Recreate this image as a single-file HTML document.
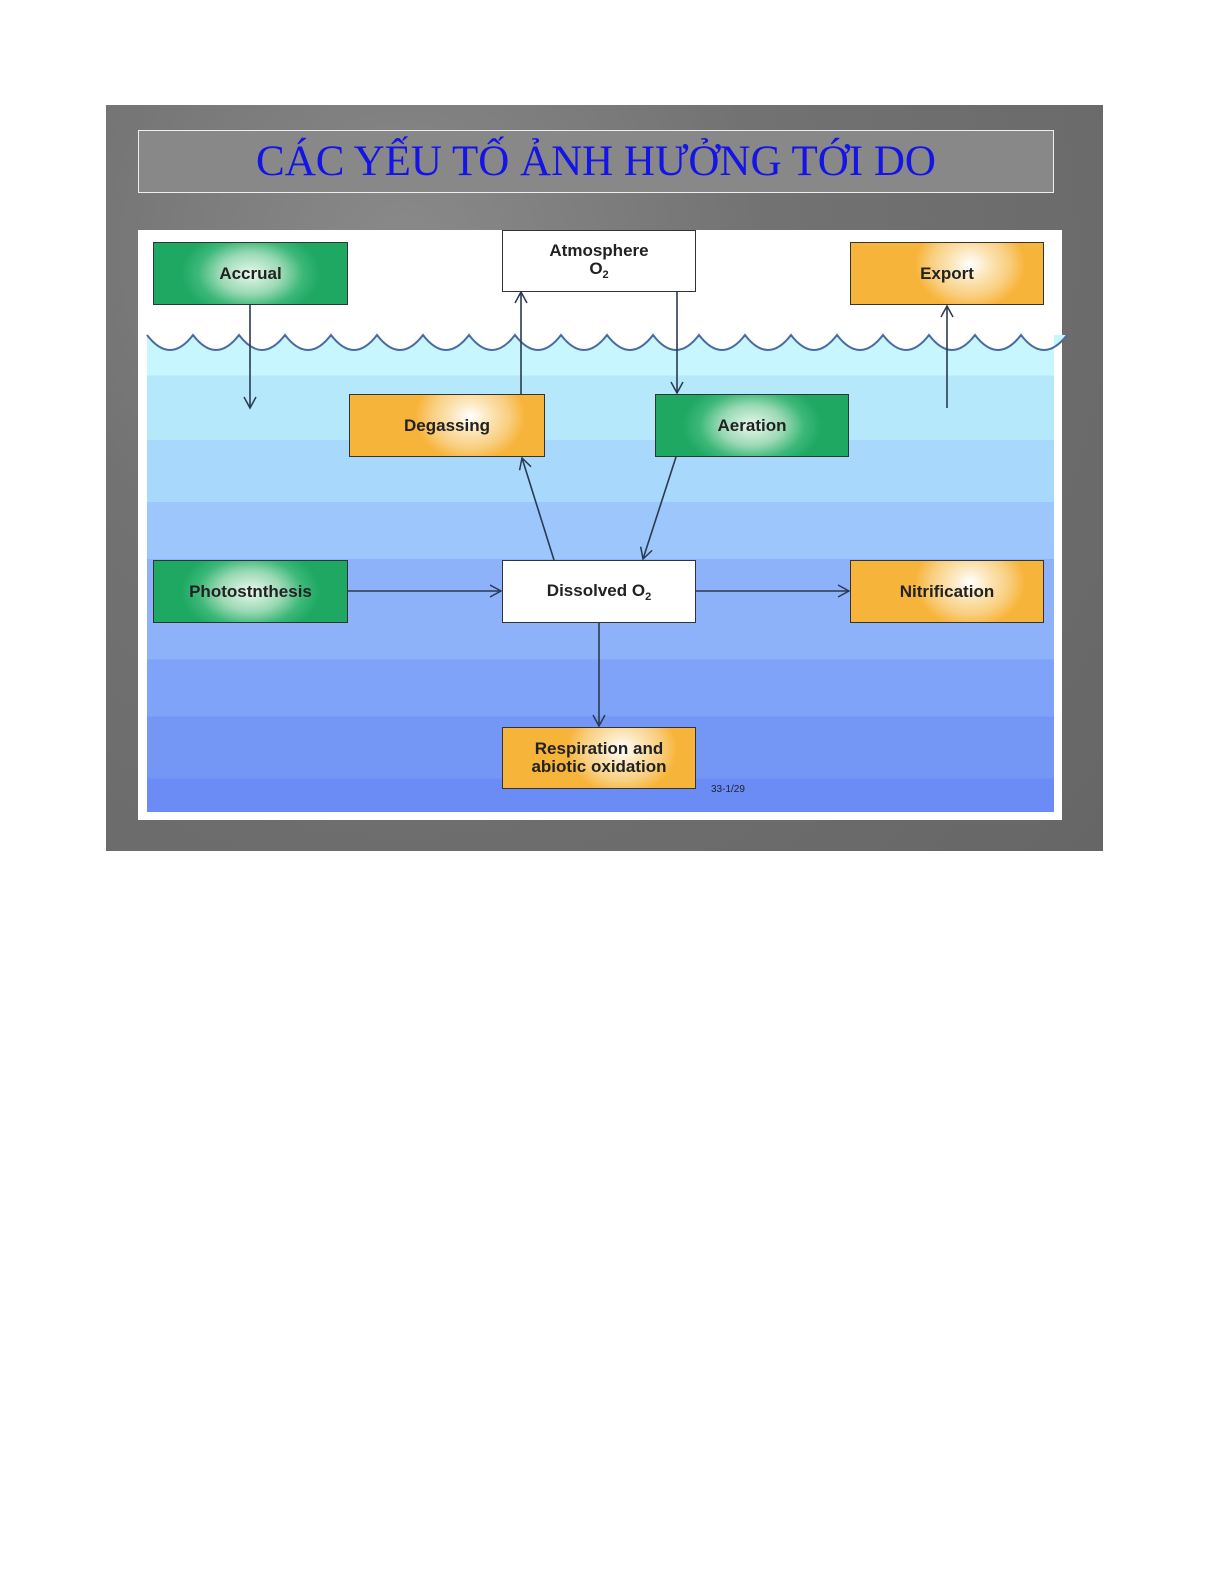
<!DOCTYPE html>
<html><head><meta charset="utf-8"><style>
body{margin:0;background:#fff;width:1225px;height:1585px;position:relative;font-family:"Liberation Sans",sans-serif}
.frame{position:absolute;left:106px;top:105px;width:997px;height:746px;background:#727272;background-image:radial-gradient(circle at 30% 20%,#8a8a8a 0,#727272 40%,#666 100%)}
.title{position:absolute;left:138px;top:130px;width:914px;height:61px;border:1px solid #eee;background:#888;color:#1414e6;font-family:"Liberation Serif",serif;font-size:43px;line-height:61px;text-align:center}
.panel{position:absolute;left:138px;top:230px;width:924px;height:590px;background:#fff}
.b{position:absolute;width:192px;height:61px;border:1.5px solid #333;font-weight:bold;font-size:17px;color:#222;display:flex;align-items:center;justify-content:center;text-align:center;box-sizing:border-box}
.b div{line-height:18px}
.s{font-size:11px;position:relative;top:4px}
.g{background:radial-gradient(ellipse 70px 45px at 50% 50%,#e8f8ee 0,#9ad9b4 45%,#3cb878 75%,#1ea862 100%)}
.o{background:radial-gradient(ellipse 55px 45px at 62% 35%,#fff 0,#fbe2b0 40%,#f9cf80 70%,#f7b43a 100%)}
.w{background:#fff}
</style></head><body>
<div class="frame"></div>
<div class="title">CÁC YẾU TỐ ẢNH HƯỞNG TỚI DO</div>
<div class="panel"></div>
<svg style="position:absolute;left:0;top:0" width="1225" height="1585">
<defs>
<linearGradient id="wg" x1="0" y1="0" x2="0" y2="1">
<stop offset="0" stop-color="#c8f6fe"/><stop offset="0.085" stop-color="#c8f6fe"/>
<stop offset="0.085" stop-color="#b6e8fc"/><stop offset="0.22" stop-color="#b6e8fc"/>
<stop offset="0.22" stop-color="#a8d8fc"/><stop offset="0.35" stop-color="#a8d8fc"/>
<stop offset="0.35" stop-color="#9cc6fc"/><stop offset="0.47" stop-color="#9cc6fc"/>
<stop offset="0.47" stop-color="#8db2fa"/><stop offset="0.68" stop-color="#8db2fa"/>
<stop offset="0.68" stop-color="#7fa3f8"/><stop offset="0.8" stop-color="#7fa3f8"/>
<stop offset="0.8" stop-color="#7497f6"/><stop offset="0.93" stop-color="#7497f6"/>
<stop offset="0.93" stop-color="#6a8cf4"/><stop offset="1" stop-color="#6a8cf4"/>
</linearGradient>
<marker id="a" markerWidth="14" markerHeight="14" refX="12" refY="7" orient="auto" markerUnits="userSpaceOnUse"><path d="M1,1 L12,7 L1,13" fill="none" stroke="#2a3a50" stroke-width="1.5"/></marker>
</defs>
<path d="M147,335 q23,30 46,0 q23,30 46,0 q23,30 46,0 q23,30 46,0 q23,30 46,0 q23,30 46,0 q23,30 46,0 q23,30 46,0 q23,30 46,0 q23,30 46,0 q23,30 46,0 q23,30 46,0 q23,30 46,0 q23,30 46,0 q23,30 46,0 q23,30 46,0 q23,30 46,0 q23,30 46,0 q23,30 46,0 q23,30 46,0 L1054,335 L1054,812 L147,812 Z" fill="url(#wg)"/>
<path d="M147,335 q23,30 46,0 q23,30 46,0 q23,30 46,0 q23,30 46,0 q23,30 46,0 q23,30 46,0 q23,30 46,0 q23,30 46,0 q23,30 46,0 q23,30 46,0 q23,30 46,0 q23,30 46,0 q23,30 46,0 q23,30 46,0 q23,30 46,0 q23,30 46,0 q23,30 46,0 q23,30 46,0 q23,30 46,0 q23,30 46,0" fill="none" stroke="#4a6aa0" stroke-width="2"/>
<g stroke="#2a3a50" stroke-width="1.6" fill="none" marker-end="url(#a)">
<line x1="250" y1="305" x2="250" y2="408"/>
<line x1="947" y1="408" x2="947" y2="306"/>
<line x1="521" y1="394" x2="521" y2="292"/>
<line x1="677" y1="291" x2="677" y2="393"/>
<line x1="554" y1="560" x2="522" y2="458"/>
<line x1="676" y1="457" x2="643" y2="559"/>
<line x1="347" y1="591" x2="501" y2="591"/>
<line x1="695" y1="591" x2="849" y2="591"/>
<line x1="599" y1="623" x2="599" y2="726"/>
</g>
<text x="711" y="792" font-size="10" fill="#223" font-family="Liberation Sans">33-1/29</text>
</svg>
<div class="b g" style="left:153px;top:242px;width:195px;height:63px"><div>Accrual</div></div>
<div class="b w" style="left:502px;top:230px;width:194px;height:62px"><div>Atmosphere<br>O<span class="s">2</span></div></div>
<div class="b o" style="left:850px;top:242px;width:194px;height:63px"><div>Export</div></div>
<div class="b o" style="left:349px;top:394px;width:196px;height:63px"><div>Degassing</div></div>
<div class="b g" style="left:655px;top:394px;width:194px;height:63px"><div>Aeration</div></div>
<div class="b g" style="left:153px;top:560px;width:195px;height:63px"><div>Photostnthesis</div></div>
<div class="b w" style="left:502px;top:560px;width:194px;height:63px"><div>Dissolved O<span class="s">2</span></div></div>
<div class="b o" style="left:850px;top:560px;width:194px;height:63px"><div>Nitrification</div></div>
<div class="b o" style="left:502px;top:727px;width:194px;height:62px"><div>Respiration and<br>abiotic oxidation</div></div>
</body></html>
